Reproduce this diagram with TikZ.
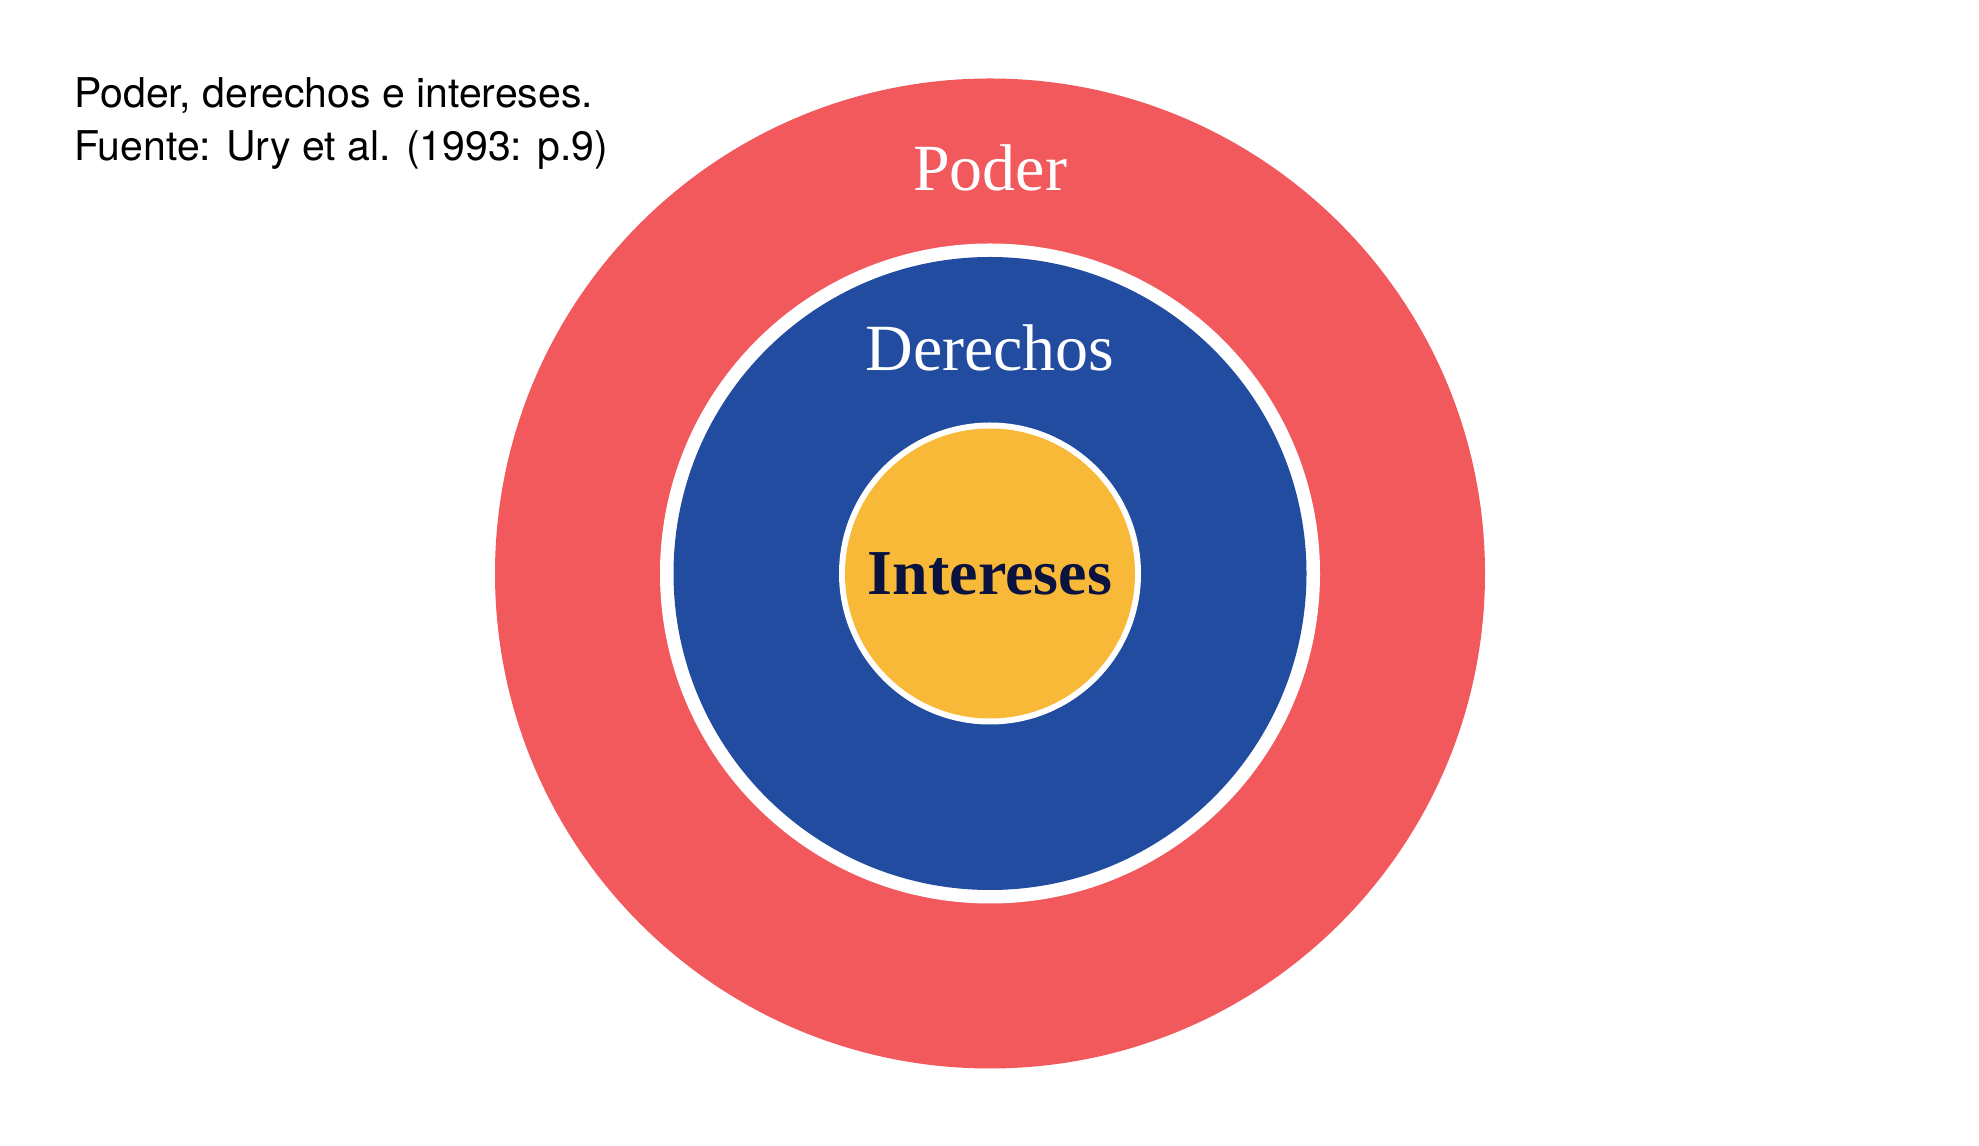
\documentclass[tikz,border=0pt]{standalone}
\usepackage{fontspec}
\setmainfont{Liberation Serif}
\newfontfamily\capfont{TeX Gyre Heros}
\definecolor{poderred}{HTML}{F2595C}
\definecolor{derblue}{HTML}{224CA0}
\definecolor{intyellow}{HTML}{F8B838}
\definecolor{navytext}{HTML}{0A1240}
\begin{document}
\begin{tikzpicture}[x=1pt,y=1pt,
  ring/.style={circle,draw=none,inner sep=0pt,minimum size=#1},
  bigtitle/.style={anchor=base,inner sep=0pt,font=\fontsize{66}{78}\selectfont},
  captext/.style={anchor=base west,inner sep=0pt,font=\capfont\fontsize{41}{50}\selectfont}]
\fill[white] (0,0) rectangle (1979,1146);
\useasboundingbox (0,0) rectangle (1979,1146);
\node[ring=990pt,fill=poderred] (poder) at (990,572.5) {};
\node[ring=660pt,fill=white] (wring) at (990,572.5) {};
\node[ring=633pt,fill=derblue] (derechos) at (990,572.5) {};
\node[ring=302pt,fill=white] (wring2) at (990,572.5) {};
\node[ring=290pt,fill=intyellow] (intereses) at (990,572.5) {};
\node[bigtitle,text=white] (tpoder) at (990,955) {Poder};
\node[bigtitle,text=white] (tder) at (990,775) {Derechos};
\node[bigtitle,text=navytext,font=\bfseries\fontsize{64}{78}\selectfont] (tint) at (990,551) {Intereses};
\node[captext] (cap1) at (74,1038) {Poder, derechos e intereses.};
\node[captext] (cap2) at (74,985) {Fuente: Ury et al. (1993: p.9)};
\end{tikzpicture}
\end{document}
